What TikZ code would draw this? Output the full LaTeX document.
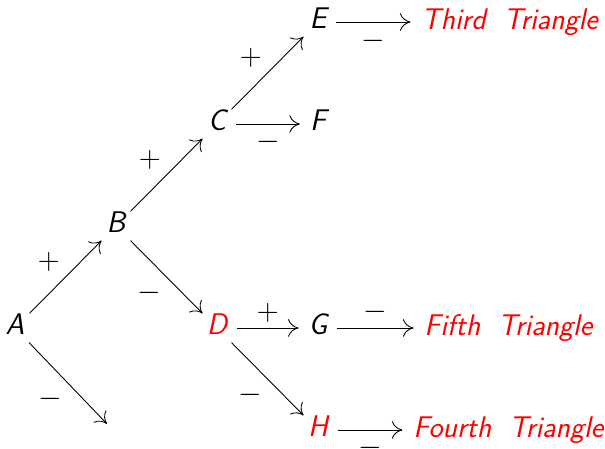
\documentclass[tikz,border=0pt]{standalone}
\usepackage{xcolor}
\usetikzlibrary{arrows.meta}
\begin{document}
\begin{tikzpicture}[x=2.02cm,y=2.04cm,
    font=\fontsize{17}{20}\selectfont\sffamily\itshape,
    state/.style={inner xsep=5.5pt, inner ysep=4.5pt, text height=1.65ex, text depth=0pt},
    tri/.style={anchor=west, inner sep=0pt, text=red},
    sgn/.style={font=\fontsize{16}{19}\selectfont, inner sep=3pt},
    every path/.style={line width=0.5pt},
    >={To[length=6pt,width=10pt]}]

    \useasboundingbox (-0.149,-1.186) rectangle (5.842,3.216);

    % Nodi
    \node[state] (A) at (0,0) {A};
    \node[state] (B) at (1,1) {B};
    \node[state] (C) at (2,2) {C};
    \node[state, text=red] (D) at (2,0) {D};
    \node[state] (E) at (3,3) {E};
    \node[state] (F) at (3,2) {F};
    \node[state] (G) at (3,0) {G};
    \node[state, text=red] (H) at (3,-1) {H};
    \coordinate (Aend) at (0.91,-0.94);

    % Triangoli
    \node[tri] (third) at (4.02,3) {Third\hspace{0.6em}Triangle};
    \node[tri] (fifth) at (4.05,0) {Fifth\hspace{0.6em}Triangle};
    \node[tri] (fourth) at (3.94,-1) {Fourth\hspace{0.6em}Triangle};

    % Frecce
    \draw[->] (A) -- node[sgn, above left] {$+$} (B);
    \draw[->] (A) -- node[sgn, below left] {$-$} (Aend);
    \draw[->] (B) -- node[sgn, above left] {$+$} (C);
    \draw[->] (B) -- node[sgn, below left] {$-$} (D);
    \draw[->] (C) -- node[sgn, above left] {$+$} (E);
    \draw[->] (C) -- node[sgn, below, inner sep=4pt] {$-$} (F);
    \draw[->] (D) -- node[sgn, above] {$+$} (G);
    \draw[->] (D) -- node[sgn, below left] {$-$} (H);
    \draw[->] (E) -- node[sgn, below, inner sep=5pt] {$-$} ([xshift=-6pt]third.west);
    \draw[->] (G) -- node[sgn, above] {$-$} ([xshift=-6pt]fifth.west);
    \draw[->] (H) -- node[sgn, below, inner sep=4pt] {$-$} ([xshift=-6pt]fourth.west);

\end{tikzpicture}
\end{document}
